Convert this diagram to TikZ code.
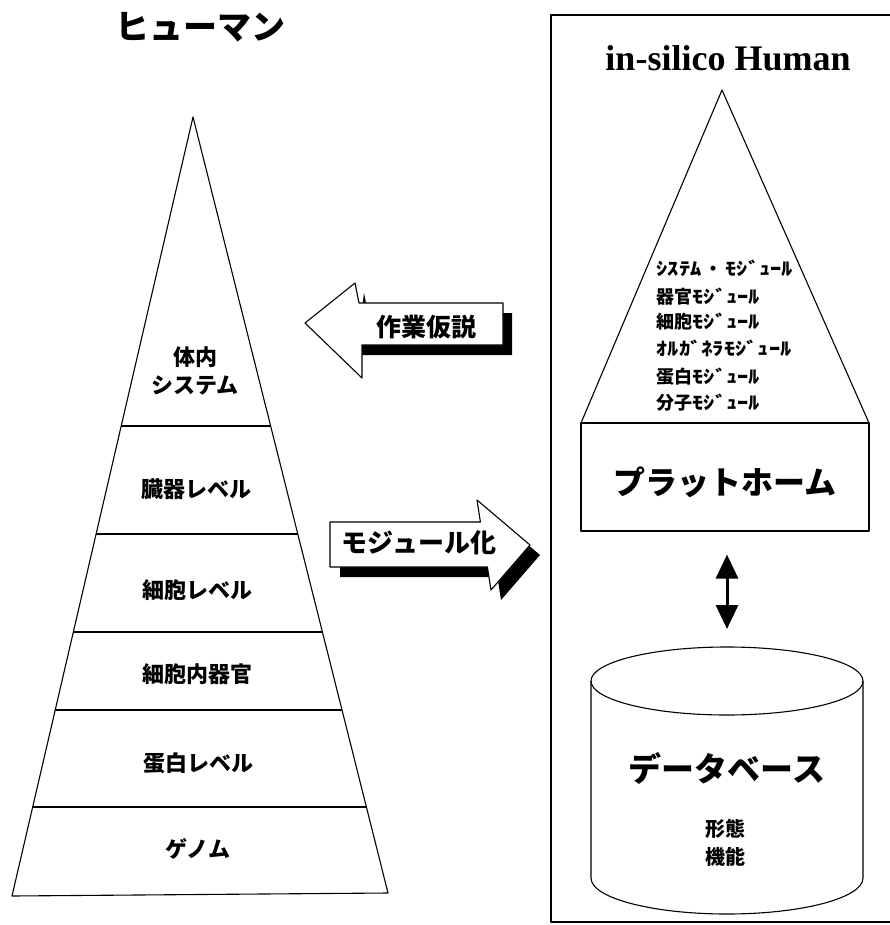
\documentclass[tikz,border=0pt]{standalone}
\usepackage{fontspec}
\setmainfont{Liberation Serif}
\newfontfamily\jp{Noto Sans CJK JP}
\newfontfamily\jphw{Noto Sans CJK JP}[FakeStretch=1.25]
\usetikzlibrary{arrows.meta}
\begin{document}
\begin{tikzpicture}[x=1pt,y=-1pt,line width=1.1pt,line join=round,
  lvl/.style={font=\jp\bfseries\fontsize{22}{28}\selectfont,align=center,inner sep=0pt},
  mod/.style={font=\jp\bfseries\fontsize{18}{20}\selectfont,anchor=west,inner sep=0pt},
  bigjp/.style={font=\jp\bfseries\fontsize{#1}{#1}\selectfont,inner sep=0pt},
  fatarrow/.style={draw=black,fill=white,line width=1.1pt},
  shadow/.style={fill=black,draw=none},
  dblarrow/.style={{Triangle[width=22pt,length=24pt]}-{Triangle[width=22pt,length=24pt]},line width=3pt}]
\useasboundingbox (0,0) rectangle (890,925);
\newcommand\hw[1]{{\jphw\bfseries #1}}

% ---------- left pyramid ----------
\coordinate (LA) at (193,117);
\coordinate (LBL) at (12,896);
\coordinate (LBR) at (388,893);
\draw (LA) -- (LBL) -- (LBR) -- cycle;
\draw (121.2,426) -- (270.6,426);
\draw (96.1,534) -- (297.8,534);
\draw (73.3,632) -- (322.4,632);
\draw (55.2,710) -- (342.0,710);
\draw (32.7,807) -- (366.4,807);

\node[bigjp=34] (human) at (200,27) {ヒューマン};
\node[lvl] (l1a) at (195,357) {体内};
\node[lvl] (l1b) at (195,385) {システム};
\node[lvl] (l2) at (196,489) {臓器レベル};
\node[lvl] (l3) at (197,590) {細胞レベル};
\node[lvl] (l4) at (197,674) {細胞内器官};
\node[lvl] (l5) at (198,763) {蛋白レベル};
\node[lvl] (l6) at (198,849) {ゲノム};

% ---------- arrow: 作業仮説 (left) ----------
\fill[shadow] (364,293) -- (368,313) -- (512,313) -- (512,355) -- (357,355) -- (357,345) -- cycle;
\draw[fatarrow] (305,323) -- (355,283) -- (359,303) -- (503,303) -- (503,345)
  -- (362,345) -- (362,378) -- cycle;
\node[bigjp=25] (hyp) at (426,327) {作業仮説};

% ---------- arrow: モジュール化 (right) ----------
\fill[shadow] (340,532) -- (490.4,532) -- (487,510) -- (540,555) -- (501,600)
  -- (497.4,577) -- (340,577) -- cycle;
\draw[fatarrow] (330,522) -- (480.4,522) -- (477,500) -- (530,545) -- (491,590)
  -- (487.4,567) -- (330,567) -- cycle;
\node[bigjp=26] (modz) at (419,543) {モジュール化};

% ---------- right frame ----------
\draw (890,15) -- (551,15) -- (551,922) -- (890,922);
\node[font=\bfseries\fontsize{36}{36}\selectfont,inner sep=0pt] (ish) at (728,58) {in-silico Human};

% ---------- right pyramid ----------
\draw (722,90) -- (581,423) -- (869,423) -- cycle;
\node[mod] (m1) at (656,268) {\hw{ｼｽﾃﾑ}\,・\,\hw{ﾓｼﾞｭｰﾙ}};
\node[mod] (m2) at (656,297) {器官\hw{ﾓｼﾞｭｰﾙ}};
\node[mod] (m3) at (656,322) {細胞\hw{ﾓｼﾞｭｰﾙ}};
\node[mod] (m4) at (656,348) {\hw{ｵﾙｶﾞﾈﾗﾓｼﾞｭｰﾙ}};
\node[mod] (m5) at (656,377) {蛋白\hw{ﾓｼﾞｭｰﾙ}};
\node[mod] (m6) at (656,403) {分子\hw{ﾓｼﾞｭｰﾙ}};

\node[draw,fill=white,minimum width=288pt,minimum height=108pt,inner sep=0pt] (plat) at (725,477) {};
\node[bigjp=32] (platlbl) at (725,482) {プラットホーム};

% ---------- database cylinder ----------
\coordinate (dbtop) at (727,647);
\draw (727,681) ellipse [x radius=136pt,y radius=34pt];
\draw (591,681) -- (591,878) arc[start angle=180,end angle=360,x radius=136pt,y radius=36pt] -- (863,681);
\node[bigjp=33] (db) at (727,768) {データベース};
\node[bigjp=20] (f1) at (725,829) {形態};
\node[bigjp=20] (f2) at (725,857) {機能};

\draw[dblarrow] ([yshift=-23pt]plat.south -| dbtop) -- ([yshift=18pt]dbtop);
\end{tikzpicture}
\end{document}
